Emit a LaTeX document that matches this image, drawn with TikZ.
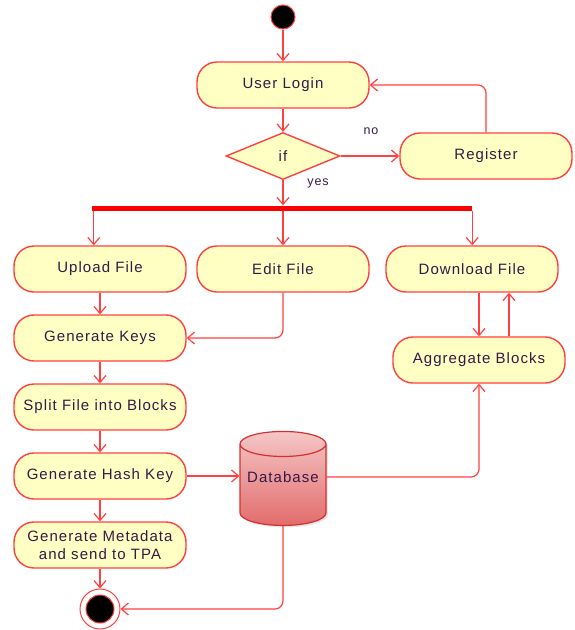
\documentclass[tikz,border=0pt]{standalone}
\usepackage{fontspec}
\setmainfont{Liberation Sans}[LetterSpace=7]
\usetikzlibrary{shapes.geometric,arrows.meta,shadows}
\definecolor{actfill}{RGB}{255,255,195}
\definecolor{actline}{RGB}{255,64,64}
\definecolor{acttext}{RGB}{55,25,70}
\definecolor{dbtop}{RGB}{245,198,198}
\definecolor{dbbottom}{RGB}{226,108,108}
\definecolor{dbline}{RGB}{210,50,50}
\tikzset{
  activity/.style={draw=actline, fill=actfill, line width=1.4pt, rounded corners=20pt,
    minimum width=172pt, minimum height=46pt, inner sep=2pt, align=center,
    text=acttext, font=\fontsize{15}{18}\selectfont},
  arr/.style={draw=actline, line width=1.2pt, -{Straight Barb[length=7pt,width=12pt]}},
  guard/.style={text=acttext, font=\fontsize{12.5}{14}\selectfont}
}
\begin{document}
\begin{tikzpicture}[x=1pt,y=-1pt]
  \useasboundingbox (0,0) rectangle (574,630);
  \node[circle, fill=black, draw=actline, line width=1pt, minimum size=24pt, inner sep=0] (start) at (283,17) {};
  \node[activity] (login) at (283,85) {User Login};
  \node[diamond, draw=actline, fill=actfill, line width=1.4pt, minimum width=114pt, minimum height=47pt,
    inner sep=0, text=acttext, font=\fontsize{15}{18}\selectfont] (if) at (283,156) {if};
  \node[activity] (register) at (486,156) {Register};
  \node[guard] (nolabel) at (371,131) {no};
  \node[guard] (yeslabel) at (318,183) {yes};
  \node[fill=red, minimum width=380pt, minimum height=5pt, inner sep=0] (bar) at (282,208) {};
  \node[activity] (edit) at (283,269) {Edit File};
  \node[activity] (download) at (472,269) {Download File};
  \node[activity] (aggregate) at (479,360) {Aggregate Blocks};
  % left column
  \foreach \name/\txt [count=\i from 0] in {upload/Upload File, keys/Generate Keys,
      split/Split File into Blocks, hashkey/Generate Hash Key,
      metadata/{Generate Metadata\\and send to TPA}}
    \node[activity] (\name) at (100,269+69*\i) {\txt};
  \node[cylinder, shape border rotate=90, aspect=0.35, draw=dbline, line width=1.2pt,
    top color=dbtop, bottom color=dbbottom, minimum width=86pt, minimum height=94pt, inner sep=0,
    text=acttext, font=\fontsize{15}{18}\selectfont,
    drop shadow={opacity=0.2, shadow xshift=2pt, shadow yshift=-2pt}] (db) at (283,485) {\raisebox{15pt}{Database}};
  \node[circle, draw=actline, fill=white, line width=1pt, minimum size=40pt, inner sep=0] (final) at (100,609) {};
  \fill[black, draw=actline, line width=1pt] (final.center) circle (14pt);

  \draw[arr] (start) -- (login);
  \draw[arr] (login) -- (if);
  \draw[arr] (if) -- (register);
  \draw[arr, rounded corners=8pt] (register.north) |- (login.east);
  \draw[arr] (if.south) -- (if.south |- bar.north);
  \draw[arr] ([xshift=2pt]bar.south west) -- ([xshift=2pt]bar.south west |- upload.north);
  \draw[arr] (bar.south -| edit) -- (edit.north);
  \draw[arr] (bar.south east) -- (bar.south east |- download.north);
  \foreach \a/\b in {upload/keys, keys/split, split/hashkey, hashkey/metadata, metadata/final}
    \draw[arr] (\a) -- (\b);
  \draw[arr, rounded corners=8pt] (edit.south) |- (keys.east);
  \draw[arr] (download.south -| aggregate.north) -- (aggregate.north);
  \draw[arr] ([xshift=30pt]aggregate.north) -- ([xshift=30pt]aggregate.north |- download.south);
  \draw[arr] (hashkey.east) -- (hashkey.east -| db.west);
  \draw[arr, rounded corners=8pt] ([yshift=8pt]db.east) -| (aggregate.south);
  \draw[arr, rounded corners=8pt] (db.south) |- (final.east);
\end{tikzpicture}
\end{document}
